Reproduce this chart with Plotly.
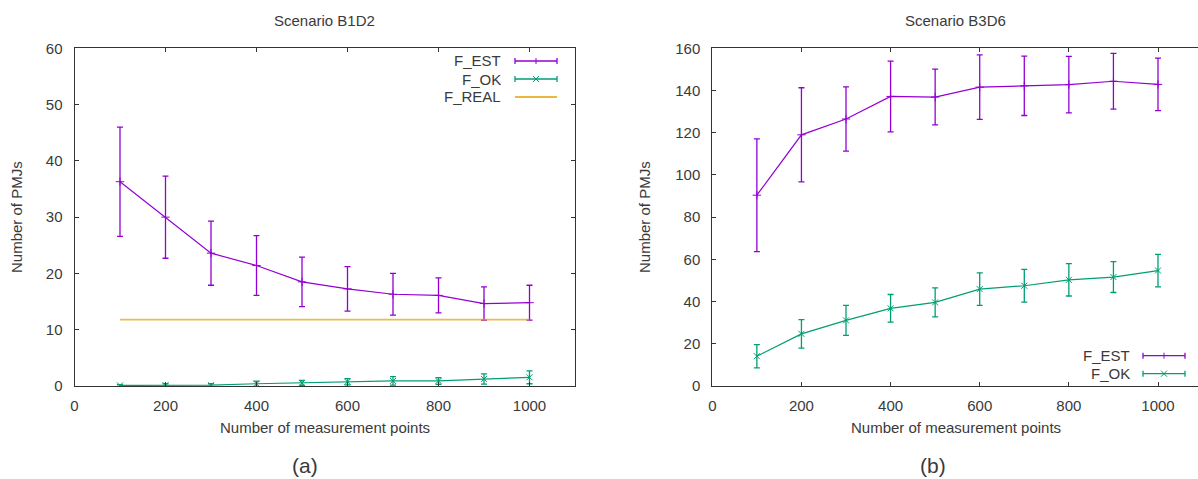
import plotly.graph_objects as go

W, H = 1198, 479

# ---------------- data ----------------
measure_points = [100, 200, 300, 400, 500, 600, 700, 800, 900, 1000]

# Scenario B1D2
b1d2_est = [36.3, 30.0, 23.6, 21.4, 18.5, 17.25, 16.3, 16.1, 14.65, 14.8]
b1d2_est_err = [9.7, 7.3, 5.7, 5.3, 4.4, 3.95, 3.7, 3.1, 2.95, 3.1]
b1d2_ok = [0.1, 0.15, 0.15, 0.4, 0.55, 0.75, 0.9, 0.9, 1.25, 1.55]
b1d2_ok_err = [0.15, 0.25, 0.25, 0.45, 0.45, 0.55, 0.75, 0.6, 0.9, 1.15]
b1d2_real = [11.8] * 10

# Scenario B3D6
b3d6_est = [90.4, 119.0, 126.5, 137.2, 136.9, 141.6, 142.2, 142.8, 144.4, 142.9]
b3d6_est_err = [26.7, 22.3, 15.25, 16.75, 13.2, 15.25, 14.05, 13.4, 13.2, 12.4]
b3d6_ok = [14.1, 24.7, 31.1, 36.8, 39.6, 45.9, 47.5, 50.3, 51.6, 54.7]
b3d6_ok_err = [5.5, 6.75, 7.1, 6.55, 6.85, 7.7, 7.75, 7.65, 7.3, 7.7]

titles = ["Scenario B1D2", "Scenario B3D6"]
x_title = "Number of measurement points"
y_title = "Number of PMJs"
panel_labels = ["(a)", "(b)"]

C_EST = "#9400D3"
C_OK = "#009E73"
C_REAL = "#E69F00"
TXT = "#3a3a3a"
AX = "#333333"
FONT = "Liberation Sans, Arial, sans-serif"
FS = 15

def px(x):
    return min(max(x / W, 0.0), 1.0)

def py(y):
    return min(max(1 - y / H, 0.0), 1.0)

fig = go.Figure()

def add_series(xa, ya, y, err, color, symbol, msize, name):
    fig.add_trace(go.Scatter(
        x=measure_points, y=y, mode="lines+markers", name=name,
        xaxis=xa, yaxis=ya, showlegend=False,
        line=dict(color=color, width=1.2),
        marker=dict(symbol=symbol, size=msize, color=color,
                    line=dict(color=color, width=1)),
        error_y=dict(type="data", array=err, visible=True,
                     color=color, thickness=1.3, width=3),
    ))

add_series("x", "y", b1d2_est, b1d2_est_err, C_EST, "cross-thin", 6, "F_EST")
add_series("x", "y", b1d2_ok, b1d2_ok_err, C_OK, "x-thin", 6, "F_OK")
fig.add_trace(go.Scatter(
    x=measure_points, y=b1d2_real, mode="lines", name="F_REAL",
    xaxis="x", yaxis="y", showlegend=False, opacity=0.7,
    line=dict(color=C_REAL, width=1.8)))
add_series("x2", "y2", b3d6_est, b3d6_est_err, C_EST, "cross-thin", 6, "F_EST")
add_series("x2", "y2", b3d6_ok, b3d6_ok_err, C_OK, "x-thin", 6, "F_OK")

# ---------------- layout ----------------
plot_top, plot_bot = 48.3, 386.0
left_x0, left_x1 = 74.5, 575.0
right_x0 = 712.3
right_scale = 0.4457          # px per unit on the right panel
right_xmax = (W - right_x0) / right_scale

left_dom = [px(left_x0), px(left_x1)]
right_dom = [px(right_x0), 1.0]
ydom = [py(plot_bot), py(plot_top)]

axis_common = dict(
    showline=True, linecolor=AX, linewidth=1, ticks="inside", ticklen=4,
    tickcolor=AX, showgrid=False, zeroline=False, automargin=False,
    tickfont=dict(family=FONT, size=FS, color=TXT),
)

fig.update_layout(
    template="none",
    width=W, height=H, autosize=False,
    margin=dict(l=0, r=0, t=0, b=0, pad=0, autoexpand=False),
    paper_bgcolor="white", plot_bgcolor="white",
    showlegend=False,
    xaxis=dict(domain=left_dom, range=[0, 1100], tick0=0, dtick=200,
               mirror="ticks", anchor="y", ticklabelstandoff=6, **axis_common),
    yaxis=dict(domain=ydom, range=[0, 60], tick0=0, dtick=10,
               mirror="ticks", anchor="x", ticklabelstandoff=8, **axis_common),
    xaxis2=dict(domain=right_dom, range=[0, right_xmax], tick0=0, dtick=200,
                mirror="ticks", anchor="y2", ticklabelstandoff=6, **axis_common),
    yaxis2=dict(domain=ydom, range=[0, 160], tick0=0, dtick=20,
                mirror=False, anchor="x2", ticklabelstandoff=8, **axis_common),
)

annotations = []
def text(x, y, s, size=FS, xanchor="center", angle=0):
    annotations.append(dict(
        x=px(x), y=py(y), xref="paper", yref="paper", text=s, showarrow=False,
        xanchor=xanchor, yanchor="middle", textangle=angle,
        font=dict(family=FONT, size=size, color=TXT)))

# titles and axis titles
text(324.5, 20, titles[0])
text(955.5, 20, titles[1])
text(324.5, 427, x_title)
text(955.5, 427, x_title)
text(17, 217, y_title, angle=-90)
text(645, 217, y_title, angle=-90)
text(305, 465, panel_labels[0], size=21)
text(933, 465, panel_labels[1], size=21)

shapes = []
def seg(x0, y0, x1, y1, color, width=1.2):
    shapes.append(dict(type="line", xref="paper", yref="paper",
                       x0=px(x0), y0=py(y0), x1=px(x1), y1=py(y1),
                       line=dict(color=color, width=width)))

def legend_row(x_text, x0, x1, y, label, color, kind):
    text(x_text, y, label, xanchor="right")
    seg(x0, y, x1, y, color, 1.3)
    if kind in ("est", "ok"):
        seg(x0, y - 3, x0, y + 3, color, 1.3)
        seg(x1, y - 3, x1, y + 3, color, 1.3)
        xc = (x0 + x1) / 2
        if kind == "est":
            seg(xc, y - 3, xc, y + 3, color, 1)
        else:
            seg(xc - 3, y - 3, xc + 3, y + 3, color, 1)
            seg(xc - 3, y + 3, xc + 3, y - 3, color, 1)

legend_row(503, 515, 557, 61, "F_EST", C_EST, "est")
legend_row(503, 515, 557, 79, "F_OK", C_OK, "ok")
legend_row(503, 515, 557, 97, "F_REAL", C_REAL, "real")
legend_row(1132, 1143, 1185, 355.7, "F_EST", C_EST, "est")
legend_row(1132, 1143, 1185, 373.7, "F_OK", C_OK, "ok")

fig.update_layout(annotations=annotations, shapes=shapes)

fig.write_html("out.html", config={"displayModeBar": False})
